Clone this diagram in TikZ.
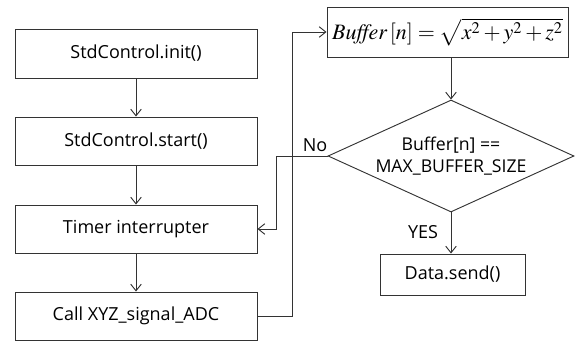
\documentclass[tikz,border=0pt]{standalone}
\usepackage{mathptmx}
\usepackage{fontspec}
\setmainfont{Open Sans}
\usetikzlibrary{shapes.geometric,arrows.meta}
\tikzset{
  box/.style={draw=black!80, line width=0.7pt, rectangle, inner sep=0pt, font=\fontsize{13.5}{16}\selectfont},
  arr/.style={draw=black!80, line width=0.7pt, -{Straight Barb[length=5pt,width=8pt]}},
  lbl/.style={font=\fontsize{13.5}{15}\selectfont, inner sep=0pt}
}
\begin{document}
\begin{tikzpicture}[x=0.75pt,y=-0.75pt]
\useasboundingbox (0,0) rectangle (578,343);
\node[box, minimum width=181.5pt, minimum height=36.75pt] (b1) at (136,53.5) {StdControl.init()};
\node[box, minimum width=181.5pt, minimum height=36pt] (b2) at (136,141) {StdControl.start()};
\node[box, minimum width=181.5pt, minimum height=36pt] (b3) at (136,229) {Timer interrupter};
\node[box, minimum width=181.5pt, minimum height=36pt] (b4) at (136,316) {Call XYZ\_signal\_ADC};
\node[box, minimum width=180.75pt, minimum height=37.5pt] (buf) at (447.5,32) {\fontsize{16.5}{18}\selectfont $\mathit{Buffer}\,[n] = \sqrt{x^2+y^2+z^2}$};
\node[box, shape=diamond, aspect=2.2, minimum width=184.5pt, minimum height=84pt, align=center, font=\fontsize{13.25}{16}\selectfont] (dia) at (451,156) {Buffer[n] ==\\MAX\_BUFFER\_SIZE};
\node[box, minimum width=108.75pt, minimum height=30.75pt] (send) at (452.5,274.5) {Data.send()};
\draw[arr] (b1) -- (b2);
\draw[arr] (b2) -- (b3);
\draw[arr] (b3) -- (b4);
\draw[arr] (b4.east) -- ++(35,0) |- (buf.west);
\draw[arr] (buf.south -| dia.north) -- (dia.north);
\draw[arr] (dia.west) -- ++(-51,0) |- (b3.east);
\draw[arr] (dia.south) -- (send.north -| dia.south);
\node[lbl] (no) at (315,145) {No};
\node[lbl] (yes) at (423,232) {YES};
\end{tikzpicture}
\end{document}
